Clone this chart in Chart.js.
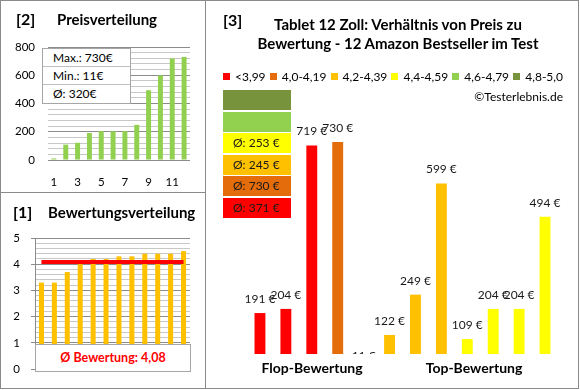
<!DOCTYPE html>
<html>
<head>
<meta charset="utf-8">
<script src="https://cdn.jsdelivr.net/npm/chart.js@4.4.1/dist/chart.umd.min.js"></script>
<style>
body { margin: 0; background: #fff; font-family: Lato, sans-serif; }
#wrap { position: relative; width: 580px; height: 390px; overflow: hidden; background: #fff; }
.panel { position: absolute; border: 1px solid #8a8a8a; box-sizing: border-box; }
canvas { position: absolute; }
.txt { position: absolute; white-space: nowrap; color: #000; line-height: 1; }
.b { font-weight: bold; }
#statBox { position: absolute; left: 42px; top: 48px; width: 89px; height: 56px; background: #fff; border: 1px solid #a6a6a6; box-sizing: border-box; }
#statBox div { height: 18px; line-height: 18px; padding-left: 10px; font-size: 12px; border-bottom: 1px solid #c0c0c0; box-sizing: border-box; }
#statBox div:last-child { border-bottom: none; }
#avgBox { position: absolute; left: 35px; top: 344px; width: 156px; height: 28px; background: #fff; border: 1px solid #a6a6a6; box-sizing: border-box; color: #ff0000; font-weight: bold; font-size: 12.5px; line-height: 26px; text-align: center; }
#legend { position: absolute; left: 223px; top: 70px; width: 340px; display: flex; justify-content: space-between; font-size: 12px; line-height: 14px; }
#legend span.sq { display: inline-block; width: 7px; height: 7px; margin-right: 5px; vertical-align: 1px; }
.grpBox { position: absolute; left: 223px; width: 68px; height: 20px; font-size: 12px; line-height: 20px; padding-left: 10px; box-sizing: border-box; color: #1a1a1a; }
</style>
</head>
<body>
<div id="wrap">
  <div class="panel" style="left:0;top:0;width:206px;height:193px"></div>
  <div class="panel" style="left:0;top:192px;width:206px;height:197px"></div>
  <div class="panel" style="left:205px;top:0;width:374px;height:389px"></div>

  <canvas id="priceChart" width="203" height="190" style="left:1px;top:1px"></canvas>
  <canvas id="ratingChart" width="203" height="194" style="left:1px;top:193px"></canvas>
  <canvas id="mainChart" width="371" height="386" style="left:206px;top:1px"></canvas>

  <div class="txt b" style="left:16px;top:11px;font-size:16px">[2]</div>
  <div class="txt b" style="left:57px;top:12px;font-size:15px">Preisverteilung</div>
  <div class="txt b" style="left:13px;top:204px;font-size:16px">[1]</div>
  <div class="txt b" style="left:48px;top:205px;font-size:15px">Bewertungsverteilung</div>
  <div class="txt b" style="left:223px;top:12px;font-size:16px">[3]</div>
  <div class="txt b" style="left:398px;top:17px;font-size:15px;transform:translateX(-50%)">Tablet 12 Zoll: Verhältnis von Preis zu</div>
  <div class="txt b" style="left:398px;top:36px;font-size:15px;transform:translateX(-50%)">Bewertung - 12 Amazon Bestseller im Test</div>
  <div class="txt" style="right:17px;top:91px;font-size:12px">©Testerlebnis.de</div>
  <div class="txt b" style="left:312px;top:361px;font-size:14px;transform:translateX(-50%)">Flop-Bewertung</div>
  <div class="txt b" style="left:474px;top:361px;font-size:14px;transform:translateX(-50%)">Top-Bewertung</div>

  <div id="statBox"></div>
  <div id="avgBox"></div>
  <div id="legend"></div>
  <div id="groups"></div>
</div>

<script>
// Products in the order of chart [3] (grouped by rating)
const prices = [191, 204, 719, 730, 11, 122, 249, 599, 109, 204, 204, 494];
const ratings = [3.3, 3.3, 3.7, 4.0, 4.2, 4.2, 4.3, 4.3, 4.4, 4.4, 4.4, 4.5];
const productLabels = ['1', '2', '3', '4', '5', '6', '7', '8', '9', '10', '11', '12'];

// Rating classes
const groupNames = ['<3,99', '4,0-4,19', '4,2-4,39', '4,4-4,59', '4,6-4,79', '4,8-5,0'];
const groupLimits = [4.0, 4.2, 4.4, 4.6, 4.8, 5.01];
const groupColors = ['#ff0000', '#e46c0a', '#ffc000', '#ffff00', '#92d050', '#77933c'];

const fontFamily = 'Lato, sans-serif';
const groupOf = r => groupLimits.findIndex(l => r < l);
const fmt = v => String(v).replace('.', ',');

// Stats
const sortedPrices = [...prices].sort((a, b) => a - b);
const sortedRatings = [...ratings].sort((a, b) => a - b);
const avgPrice = Math.round(prices.reduce((a, b) => a + b, 0) / prices.length);
const avgRating = ratings.reduce((a, b) => a + b, 0) / ratings.length;

document.getElementById('statBox').innerHTML =
    '<div>Max.: ' + Math.max(...prices) + '€</div>' +
    '<div>Min.: ' + Math.min(...prices) + '€</div>' +
    '<div>Ø: ' + avgPrice + '€</div>';
document.getElementById('avgBox').textContent = 'Ø Bewertung: ' + fmt(avgRating.toFixed(2));

document.getElementById('legend').innerHTML = groupNames.map((n, i) =>
    '<span><span class="sq" style="background:' + groupColors[i] + '"></span>' + n + '</span>').join('');

// Group average boxes, top = best class
let html = '';
for (let g = groupNames.length - 1; g >= 0; g--) {
    const vals = prices.filter((p, i) => groupOf(ratings[i]) === g);
    const top = 90 + (groupNames.length - 1 - g) * 21.6;
    const label = vals.length ? 'Ø: ' + Math.round(vals.reduce((a, b) => a + b, 0) / vals.length) + ' €' : '';
    html += '<div class="grpBox" style="top:' + top + 'px;background:' + groupColors[g] + '">' + label + '</div>';
}
document.getElementById('groups').innerHTML = html;

// [2] Preisverteilung
new Chart(document.getElementById('priceChart'), {
    type: 'bar',
    data: {
        labels: productLabels,
        datasets: [{ data: sortedPrices, backgroundColor: '#92d050', barPercentage: 0.42, categoryPercentage: 1 }]
    },
    options: {
        responsive: false, animation: false,
        plugins: { legend: { display: false }, tooltip: { enabled: false } },
        layout: { padding: { top: 46, right: 14, left: 0, bottom: 0 } },
        scales: {
            x: {
                grid: { display: false, drawTicks: false }, border: { display: false },
                ticks: { autoSkip: false, maxRotation: 0, padding: 15, color: '#000', font: { family: fontFamily, size: 11.5 },
                    callback: (v, i) => i % 2 === 0 ? productLabels[i] : '' },
                afterFit: s => { s.height = 31; }
            },
            y: {
                min: 0, max: 800,
                grid: { drawTicks: false, color: c => c.tick.value % 200 === 0 ? '#8c8c8c' : '#c8c8c8' },
                border: { display: false },
                ticks: { autoSkip: false, stepSize: 40, padding: 13, color: '#000', font: { family: fontFamily, size: 11.5 },
                    callback: v => v % 200 === 0 ? v : '' },
                afterFit: s => { s.width = 47; }
            }
        }
    }
});

// [1] Bewertungsverteilung
const isInt = v => Math.abs(v - Math.round(v)) < 1e-6;
new Chart(document.getElementById('ratingChart'), {
    type: 'bar',
    data: {
        labels: productLabels,
        datasets: [
            { type: 'line', data: ratings.map(() => avgRating), borderColor: '#ff0000', borderWidth: 4, pointRadius: 0 },
            { data: sortedRatings, backgroundColor: '#ffc000', barPercentage: 0.39, categoryPercentage: 1 }
        ]
    },
    options: {
        responsive: false, animation: false,
        plugins: { legend: { display: false }, tooltip: { enabled: false } },
        layout: { padding: { top: 45, right: 14, left: 0, bottom: 14 } },
        scales: {
            x: { display: false },
            y: {
                min: 0, max: 5,
                grid: { tickLength: 4, color: c => isInt(c.tick.value) ? '#8c8c8c' : '#c8c8c8',
                    tickColor: c => isInt(c.tick.value) ? '#8c8c8c' : 'rgba(0,0,0,0)' },
                border: { display: true, color: '#8c8c8c' },
                ticks: { autoSkip: false, stepSize: 0.2, padding: 11, color: '#000', font: { family: fontFamily, size: 11.5 },
                    callback: v => isInt(v) ? Math.round(v) : '' },
                afterFit: s => { s.width = 34; }
            }
        }
    }
});

// [3] Preis zu Bewertung
const valueLabels = {
    id: 'valueLabels',
    afterDatasetsDraw(chart) {
        const { ctx, chartArea } = chart;
        ctx.save();
        ctx.beginPath();
        ctx.rect(chartArea.left - 30, chartArea.top - 40, chartArea.width + 60, chartArea.height + 40);
        ctx.clip();
        ctx.font = '12px ' + fontFamily;
        ctx.fillStyle = '#1a1a1a';
        ctx.textAlign = 'center';
        ctx.textBaseline = 'middle';
        chart.getDatasetMeta(0).data.forEach((bar, i) => {
            ctx.fillText(prices[i] + ' €', bar.x, bar.y - 14);
        });
        ctx.restore();
    }
};

new Chart(document.getElementById('mainChart'), {
    type: 'bar',
    data: {
        labels: productLabels,
        datasets: [{
            data: prices,
            backgroundColor: ratings.map(r => groupColors[groupOf(r)]),
            barPercentage: 0.42, categoryPercentage: 1
        }]
    },
    options: {
        responsive: false, animation: false,
        plugins: { legend: { display: false }, tooltip: { enabled: false } },
        layout: { padding: { top: 99, right: 19, left: 41, bottom: 33 } },
        scales: {
            x: { display: false },
            y: { display: false, min: 62, max: 862 }
        }
    },
    plugins: [valueLabels]
});
</script>
</body>
</html>
